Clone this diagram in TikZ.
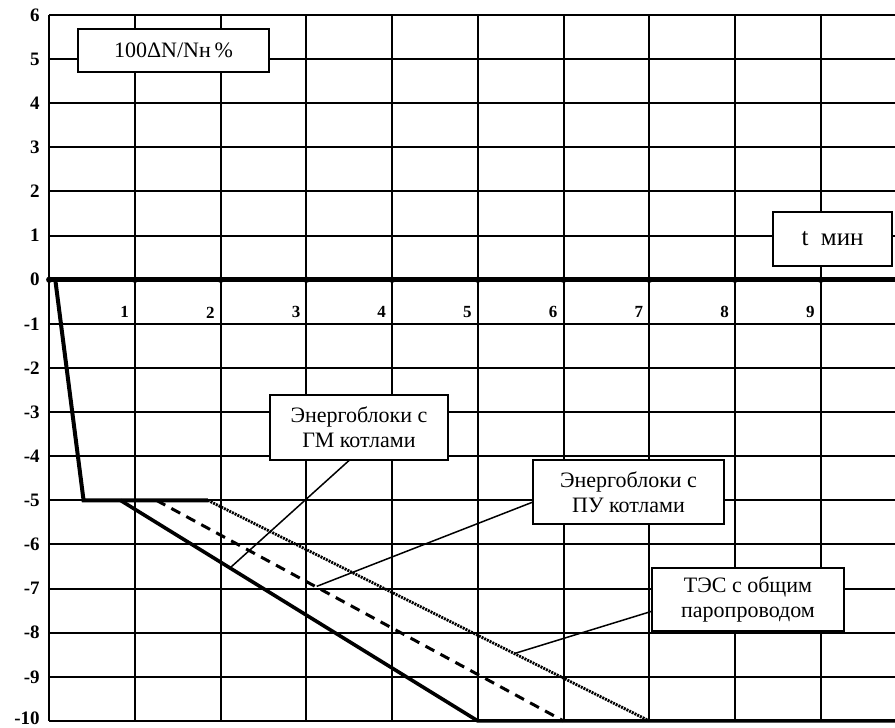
\documentclass[tikz,border=0pt]{standalone}
\usepackage{fontspec}
\setmainfont{Liberation Serif}
\usetikzlibrary{positioning}

\begin{document}
\begin{tikzpicture}[x=42.855pt,y=22.06pt]
\tikzstyle{every path}=[line width=1pt]
\tikzstyle{gridline}=[line width=1pt]
\tikzstyle{labelbox}=[draw,fill=white,line width=1pt,align=center,inner sep=1pt,outer sep=0pt,font=\fontsize{11}{12.5}\selectfont]
\tikzstyle{ylab}=[anchor=east,inner sep=0pt,font=\fontsize{9.5}{10}\selectfont\bfseries]
\tikzstyle{xlab}=[anchor=east,inner sep=0pt,font=\fontsize{8.5}{9}\selectfont\bfseries]
\tikzstyle{leader}=[line width=0.75pt]
\useasboundingbox (-0.575,-10.159) rectangle (9.867,6.34);

%% Draw grid
\foreach \y in {-10,...,6}
    \draw[gridline] (0,\y) -- (9.867,\y);
\foreach \x in {0,...,9}
    \draw[gridline] (\x,-10) -- (\x,6);
\foreach \y in {-9,...,6}
    \node[ylab] at (-0.1,\y) {\y};
\node[ylab] at (-0.1,-9.93) {-10};

%% Draw time axis
\draw[line width=2.5pt] (0,0) -- (9.867,0);
\foreach \x in {0,...,9}
    \fill (\x,0) circle (1.6pt);
\foreach \x in {1,...,9}
    \node[xlab] at (\x-0.06,-0.74) {\x};

%% Draw curves
\draw[line width=2pt] (0.07,0) -- (0.4,-5) -- (1.85,-5);
\draw[line width=1.8pt] (0.83,-5) -- (5,-10) -- (9.867,-10);
\draw[line width=1.5pt,dash pattern=on 5pt off 3.5pt] (1.25,-5) -- (6,-10);
\draw[line width=1.4pt,dash pattern=on 1pt off 0.5pt] (1.85,-5) -- (7,-10);

%% Draw label boxes
\node[labelbox,minimum width=95.5pt,minimum height=21.5pt] (unitbox) at (1.449,5.195) {100ΔN/Nн\,\%};
\node[labelbox,minimum width=59.5pt,minimum height=27pt,font=\fontsize{12.5}{13}\selectfont] (tbox) at (9.138,0.924) {t~~мин};
\node[labelbox,minimum width=89pt,minimum height=32.5pt] (gmbox) at (3.613,-3.348) {Энергоблоки с\\ГМ котлами};
\node[labelbox,minimum width=95.5pt,minimum height=32pt] (pubox) at (6.758,-4.810) {Энергоблоки с\\ПУ котлами};
\node[labelbox,minimum width=96pt,minimum height=31.5pt] (tesbox) at (8.152,-7.246) {ТЭС с общим\\паропроводом};

%% Draw leaders
\coordinate (gmend) at (2.11,-6.53);
\coordinate (puend) at (3.12,-6.95);
\coordinate (tesend) at (5.43,-8.47);
\draw[leader] (gmbox.254) -- (gmend);
\draw[leader] (pubox.186) -- (puend);
\draw[leader] (tesbox.187) -- (tesend);
\end{tikzpicture}
\end{document}
